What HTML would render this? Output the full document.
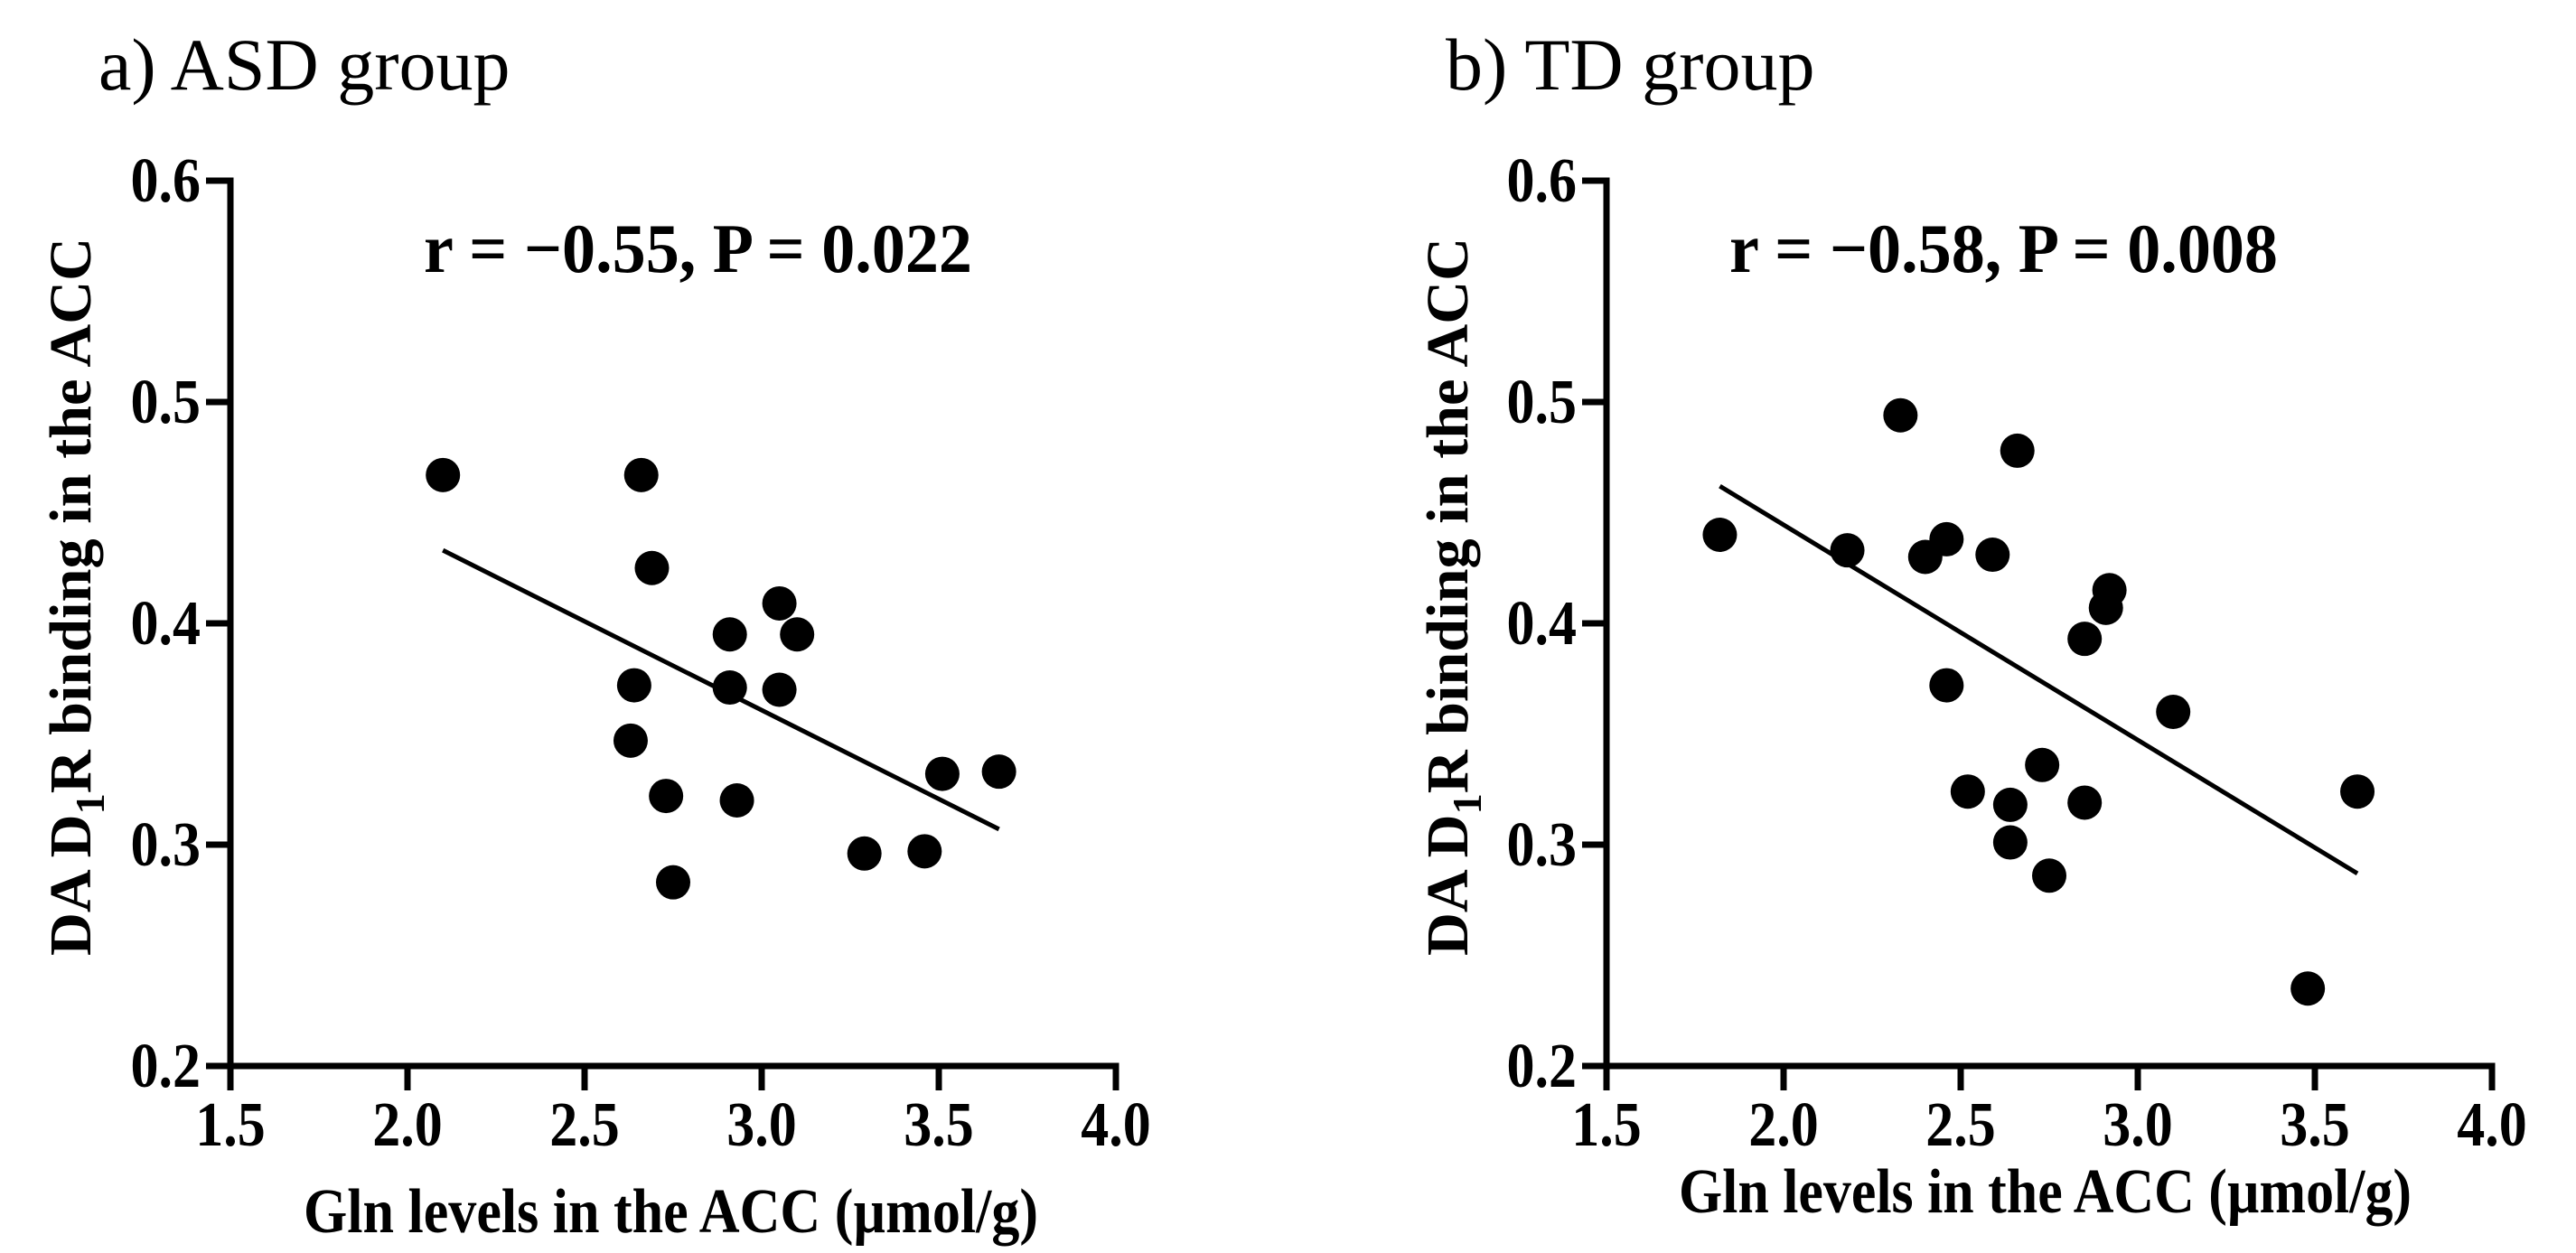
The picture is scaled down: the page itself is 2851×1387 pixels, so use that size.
<!DOCTYPE html>
<html><head><meta charset="utf-8"><style>
html,body{margin:0;padding:0;background:#fff;}
svg text{font-family:"Liberation Serif","Times New Roman",serif;fill:#000;}
</style></head><body>
<svg id="fig" width="2851" height="1382" viewBox="0 0 2851 1382" xmlns="http://www.w3.org/2000/svg">
<rect width="2851" height="1382" fill="#fff"/>
<text x="109" y="99" font-size="82">a) ASD group</text>
<text x="1600" y="99" font-size="82">b) TD group</text>
<g id="pa"></g>
<g id="pb"></g>
</svg>
<script>
const xTicks = [1.5, 2.0, 2.5, 3.0, 3.5, 4.0];
const yTicks = [0.2, 0.3, 0.4, 0.5, 0.6];
const asdX = [2.10, 2.66, 2.69, 2.64, 2.63, 2.73, 2.75, 2.91, 2.91, 2.93, 3.05, 3.10, 3.05, 3.29, 3.46, 3.51, 3.67];
const asdY = [0.467, 0.467, 0.425, 0.372, 0.347, 0.322, 0.283, 0.395, 0.371, 0.320, 0.409, 0.395, 0.370, 0.296, 0.297, 0.332, 0.333];
const asdFitX = [2.10, 3.67];
const asdFitY = [0.433, 0.307];
const tdX = [1.82, 2.18, 2.33, 2.40, 2.46, 2.46, 2.59, 2.66, 2.52, 2.64, 2.64, 2.73, 2.75, 2.85, 2.85, 2.91, 2.92, 3.10, 3.48, 3.62];
const tdY = [0.440, 0.433, 0.494, 0.430, 0.438, 0.372, 0.431, 0.478, 0.324, 0.318, 0.301, 0.336, 0.286, 0.319, 0.393, 0.407, 0.415, 0.360, 0.235, 0.324];
const tdFitX = [1.82, 3.62];
const tdFitY = [0.462, 0.287];
const asdStat = "r = \u22120.55, P = 0.022";
const tdStat = "r = \u22120.58, P = 0.008";

const NS = "http://www.w3.org/2000/svg";
function mk(parent, tag, attrs, text) {
  const e = document.createElementNS(NS, tag);
  for (const k in attrs) e.setAttribute(k, attrs[k]);
  if (text !== undefined) e.textContent = text;
  parent.appendChild(e);
  return e;
}
function panel(g, x0, xs, ys, fx, fy, stat, statX, xTitleX, xTitleY, xTitleW, yTitleX, tag) {
  const top = 200, bot = 1180, xmin = 1.5, xmax = 4.0, ymin = 0.2, ymax = 0.6, xr = 980;
  const sx = v => x0 + (v - xmin) / (xmax - xmin) * xr;
  const sy = v => bot - (v - ymin) / (ymax - ymin) * (bot - top);
  let e;
  e = mk(g, "line", {x1: x0, y1: top - 3.5, x2: x0, y2: bot + 3.5, stroke: "#000", "stroke-width": 7});
  
  
  e = mk(g, "line", {x1: x0 - 3.5, y1: bot, x2: sx(xmax) + 3.5, y2: bot, stroke: "#000", "stroke-width": 7});
  
  
  yTicks.forEach(v => {
    e = mk(g, "line", {x1: x0 - 27, y1: sy(v), x2: x0, y2: sy(v), stroke: "#000", "stroke-width": 7});
    
    
    e = mk(g, "text", {x: 0, y: 0, "font-size": 62, "font-weight": "bold", "text-anchor": "end", transform: "translate(" + (x0 - 33) + "," + (sy(v) + 23) + ") scale(1,1.12)"}, v.toFixed(1));
    
    
  });
  xTicks.forEach(v => {
    e = mk(g, "line", {x1: sx(v), y1: bot, x2: sx(v), y2: bot + 27, stroke: "#000", "stroke-width": 7});
    
    
    e = mk(g, "text", {x: 0, y: 0, "font-size": 62, "font-weight": "bold", "text-anchor": "middle", transform: "translate(" + sx(v) + ",1268) scale(1,1.12)"}, v.toFixed(1));
    
    
  });
  e = mk(g, "line", {x1: sx(fx[0]), y1: sy(fy[0]), x2: sx(fx[1]), y2: sy(fy[1]), stroke: "#000", "stroke-width": 5});
  
  
  xs.forEach((v, i) => {
    e = mk(g, "circle", {cx: sx(v), cy: sy(ys[i]), r: 19, fill: "#000"});
    
    
  });
  e = mk(g, "text", {x: 0, y: 0, "font-size": 70, "font-weight": "bold", textLength: 607, lengthAdjust: "spacingAndGlyphs", transform: "translate(" + statX + ",301) scale(1,1.1)"}, stat);
  
  
  e = mk(g, "text", {x: 0, y: 0, "font-size": 62, "font-weight": "bold", textLength: xTitleW, lengthAdjust: "spacingAndGlyphs", transform: "translate(" + xTitleX + "," + xTitleY + ") scale(1,1.12)"}, "Gln levels in the ACC (\u00b5mol/g)");
  
  
  const yt = mk(g, "text", {x: -397, y: 0, "font-size": 66, "font-weight": "bold", textLength: 795, lengthAdjust: "spacingAndGlyphs", transform: "translate(" + yTitleX + ",661) rotate(-90)"});
  
  
  mk(yt, "tspan", {}, "DA D");
  mk(yt, "tspan", {"font-size": 46, dy: 15}, "1");
  mk(yt, "tspan", {dy: -15}, "R binding in the ACC");
}
panel(document.getElementById("pa"), 255, asdX, asdY, asdFitX, asdFitY, asdStat, 469, 336, 1364, 813, 100, "asd");
panel(document.getElementById("pb"), 1778, tdX, tdY, tdFitX, tdFitY, tdStat, 1914, 1858, 1342, 811, 1624, "td");
</script>
</body></html>
